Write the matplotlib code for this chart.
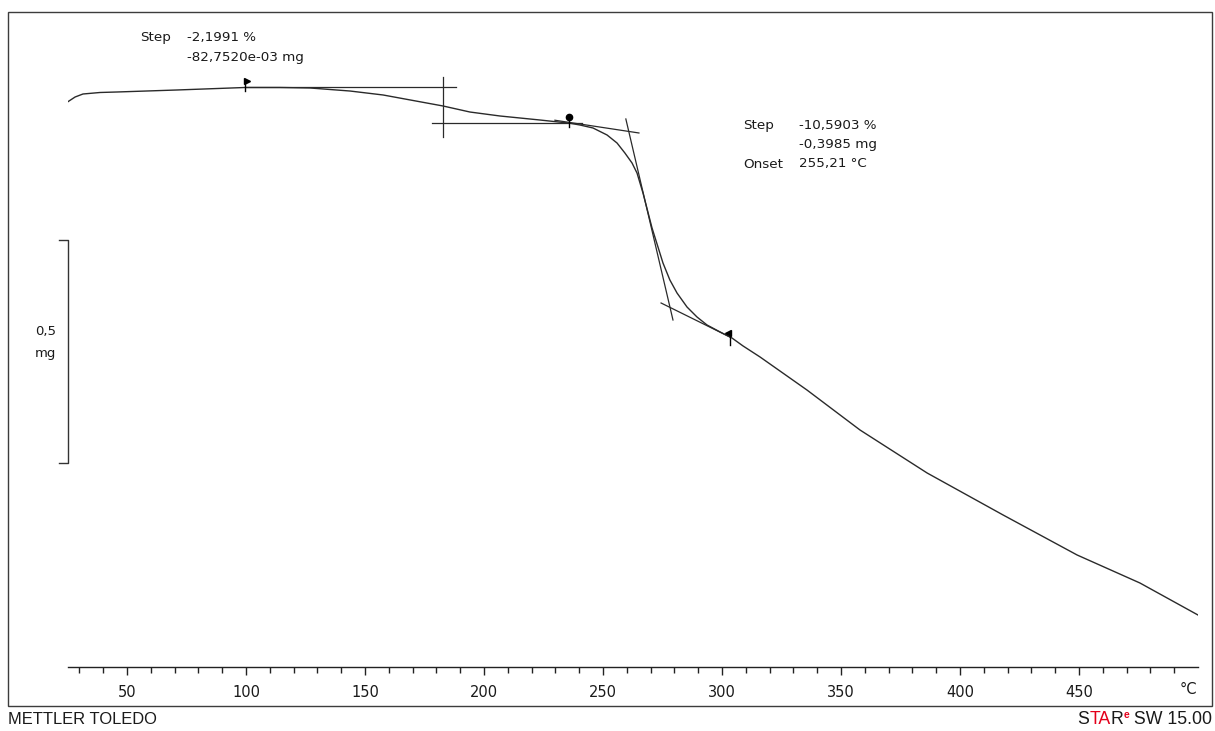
import matplotlib
matplotlib.use("Agg")
import matplotlib.pyplot as plt
from matplotlib.patches import Rectangle
import numpy as np

# ---- data (temperature in °C, mass in mg) ----
temp = [25.0, 28.2, 31.5, 38.7, 45.8, 71.0, 99.6, 114.3, 126.9, 143.7, 157.6,
        182.8, 194.1, 206.7, 223.5, 236.1, 240.3, 245.8, 251.7, 255.9, 259.2,
        262.2, 264.3, 266.8, 270.6, 273.1, 275.2, 278.1, 281.1, 285.3, 289.5,
        293.7, 299.2, 304.2, 308.8, 316.0, 335.7, 358.0, 386.2, 418.1, 449.2,
        475.6, 500.0]
mass = [3.6664, 3.6776, 3.6843, 3.6877, 3.6888, 3.6933, 3.6989, 3.6989, 3.6978,
        3.6910, 3.6821, 3.6574, 3.6439, 3.6350, 3.6260, 3.6188, 3.6148, 3.6081,
        3.5924, 3.5744, 3.5520, 3.5296, 3.5070, 3.4623, 3.3839, 3.3413, 3.3054,
        3.2673, 3.2381, 3.2067, 3.1843, 3.1664, 3.1507, 3.1372, 3.1195, 3.0946,
        3.0206, 2.9309, 2.8345, 2.7404, 2.6507, 2.5879, 2.5161]

# evaluation helper lines (tangents / step limits)
step1_top_x = [99.6, 188.4]
step1_top_y = [3.7000, 3.7000]
step1_bot_x = [178.1, 241.2]
step1_bot_y = [3.6193, 3.6193]
step1_vert_x = [182.8, 182.8]
step1_vert_y = [3.7224, 3.5879]
tan_pre_x = [229.8, 265.1]
tan_pre_y = [3.6255, 3.5969]
tan_steep_x = [259.6, 279.4]
tan_steep_y = [3.6283, 3.1776]
tan_post_x = [274.4, 303.3]
tan_post_y = [3.2157, 3.1395]

major_ticks = [50, 100, 150, 200, 250, 300, 350, 400, 450]
minor_ticks = list(range(30, 500, 10))

ann1 = [("Step", "-2,1991 %"), ("", "-82,7520e-03 mg")]
ann2 = [("Step", "-10,5903 %"), ("", "-0,3985 mg"), ("Onset", "255,21 °C")]

# ---- figure ----
W, H = 1215, 731
fig = plt.figure(figsize=(W / 100, H / 100), dpi=100)

def fx(px):
    return px / W

def fy(py):
    return 1 - py / H

# outer frame
fig.patches.append(Rectangle((fx(8), fy(706)), fx(1212) - fx(8), fy(12) - fy(706),
                             transform=fig.transFigure, fill=False,
                             edgecolor="#3c3c3c", linewidth=1.0))

ax_left, ax_right = 67.5, 1198
ax_top, ax_bot = 12, 667
ax = fig.add_axes([fx(ax_left), fy(ax_bot), fx(ax_right) - fx(ax_left), fy(ax_top) - fy(ax_bot)])
ax.set_xlim(25, 500)
px_per_mg = 446.0
y_bot = 3.70 - (ax_bot - 87) / px_per_mg
y_top = 3.70 + (87 - ax_top) / px_per_mg
ax.set_ylim(y_bot, y_top)
ax.patch.set_visible(False)

for s in ["top", "left", "right"]:
    ax.spines[s].set_visible(False)
ax.spines["bottom"].set_color("#222222")
ax.spines["bottom"].set_linewidth(1.0)
ax.set_yticks([])
ax.set_xticks(major_ticks)
ax.set_xticklabels([str(t) for t in major_ticks])
ax.set_xticks(minor_ticks, minor=True)
ax.tick_params(axis="x", which="major", direction="out", length=6, width=1.0,
               color="#222222", labelsize=10.5, pad=7, labelcolor="#1a1a1a")
ax.tick_params(axis="x", which="minor", direction="out", length=4, width=1.0,
               color="#222222")
ax.text(499.5, y_bot - 23 / px_per_mg, "°C", ha="right", va="center",
        fontsize=10.5, color="#1a1a1a")

lc = "#2a2a2a"
ax.plot(temp, mass, color=lc, lw=1.0, solid_joinstyle="round")
for xs, ys in [(step1_top_x, step1_top_y), (step1_bot_x, step1_bot_y),
               (step1_vert_x, step1_vert_y), (tan_pre_x, tan_pre_y),
               (tan_steep_x, tan_steep_y), (tan_post_x, tan_post_y)]:
    ax.plot(xs, ys, color=lc, lw=0.9)

# markers (flags)
ax.plot([99.6, 99.6], [3.7157, 3.6910], color="black", lw=1.0)
ax.plot([100.6], [3.7125], marker=">", color="black", markersize=4)
ax.plot([235.7, 235.7], [3.6327, 3.6103], color="black", lw=1.0)
ax.plot([235.7], [3.6327], marker="o", color="black", markersize=4.5)
ax.plot([303.4, 303.4], [3.1530, 3.1216], color="black", lw=1.0)
ax.plot([302.6], [3.149], marker="<", color="black", markersize=4)

# scale bar 0.5 mg
sb_top = 3.70 - (240 - 87) / px_per_mg
sb_bot = sb_top - 0.5
ax.plot([21.6, 25, 25, 21.6], [sb_top, sb_top, sb_bot, sb_bot],
        color="#333333", lw=1.0, clip_on=False)
sb_mid = (sb_top + sb_bot) / 2
ax.text(15.6, sb_mid + 19.5 / px_per_mg, "0,5", ha="center", va="center", fontsize=9.5,
        color="#1a1a1a")
ax.text(15.6, sb_mid - 2.5 / px_per_mg, "mg", ha="center", va="center", fontsize=9.5,
        color="#1a1a1a")

# annotations (pixel positions in figure)
tc = "#1a1a1a"
def annot(lines, x_lab, x_val, y0, dy):
    for i, (lab, val) in enumerate(lines):
        y = y0 + i * dy
        if lab:
            fig.text(fx(x_lab), fy(y), lab, ha="left", va="center", fontsize=9.7, color=tc)
        fig.text(fx(x_val), fy(y), val, ha="left", va="center", fontsize=9.7, color=tc)

annot(ann1, 140, 187, 37, 20)
annot(ann2, 743, 799, 125, 19.5)

# footer
fig.text(fx(8), fy(720), "METTLER TOLEDO", ha="left", va="center",
         fontsize=11.9, family="Liberation Sans", color="#1a1a1a")
parts = [("S", "#1a1a1a"), ("TA", "#e3001b"), ("R", "#1a1a1a")]
fig.canvas.draw()
r = fig.canvas.get_renderer()
tail = fig.text(fx(1212), fy(720), " SW 15.00", ha="right", va="center",
                fontsize=12.8, family="Liberation Sans", color="#1a1a1a")
bb = tail.get_window_extent(renderer=r)
x_cur = bb.x0
sup = fig.text(x_cur / W, fy(715), "e", ha="right", va="center", fontsize=7.5,
               family="Liberation Sans", color="#e3001b", weight="bold")
x_cur = sup.get_window_extent(renderer=r).x0
for txt, col in reversed(parts):
    t = fig.text(x_cur / W, fy(720), txt, ha="right", va="center", fontsize=12.8,
                 family="Liberation Sans", color=col)
    x_cur = t.get_window_extent(renderer=r).x0

fig.savefig("out.png", dpi=100)
